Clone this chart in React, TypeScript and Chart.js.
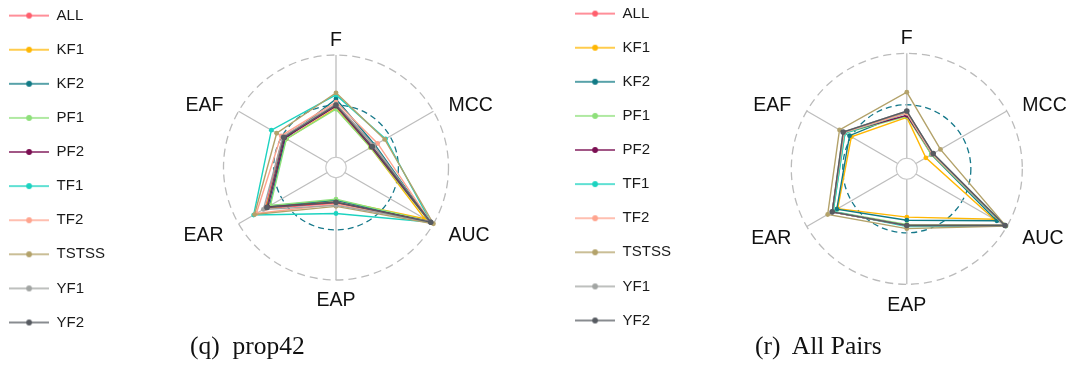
import React, { useEffect, useRef } from 'react';
import { Chart, registerables } from 'chart.js';

Chart.register(...registerables);

// Axes of every radar, clockwise from the top
const metrics = ['F', 'MCC', 'AUC', 'EAP', 'EAR', 'EAF'];

// Compared approaches and their colours
const methods = ['ALL', 'KF1', 'KF2', 'PF1', 'PF2', 'TF1', 'TF2', 'TSTSS', 'YF1', 'YF2'];
const methodColors = [
  '#FF5F6D', '#FFB703', '#117A85', '#8EE07A', '#7B0F52',
  '#1CD3C0', '#FFA48E', '#B3A26A', '#A2A5A3', '#575B61',
];

// Scores per method (rows follow `methods`, columns follow `metrics`)
const prop42Scores: number[][] = [
  [0.52, 0.33, 0.95, 0.25, 0.70, 0.50],
  [0.48, 0.29, 0.90, 0.22, 0.69, 0.46],
  [0.57, 0.34, 0.96, 0.22, 0.65, 0.47],
  [0.47, 0.29, 0.95, 0.21, 0.64, 0.46],
  [0.50, 0.30, 0.96, 0.24, 0.67, 0.48],
  [0.61, 0.46, 0.97, 0.35, 0.83, 0.63],
  [0.54, 0.37, 0.97, 0.26, 0.80, 0.52],
  [0.63, 0.45, 1.00, 0.28, 0.82, 0.57],
  [0.52, 0.33, 0.96, 0.27, 0.72, 0.50],
  [0.51, 0.31, 0.97, 0.24, 0.68, 0.49],
];

const allPairsScores: number[][] = [
  [0.44, 0.18, 0.98, 0.44, 0.72, 0.59],
  [0.39, 0.11, 0.86, 0.36, 0.66, 0.51],
  [0.44, 0.17, 0.89, 0.39, 0.67, 0.53],
  [0.40, 0.17, 0.97, 0.43, 0.71, 0.58],
  [0.41, 0.18, 0.98, 0.44, 0.72, 0.59],
  [0.43, 0.18, 0.99, 0.45, 0.71, 0.58],
  [0.43, 0.18, 0.98, 0.44, 0.72, 0.59],
  [0.63, 0.27, 0.99, 0.47, 0.77, 0.64],
  [0.45, 0.19, 0.98, 0.44, 0.72, 0.60],
  [0.45, 0.19, 0.98, 0.44, 0.72, 0.60],
];

// Radial range: values below 0 form the empty hub in the middle
const SCALE_MIN = -0.1;
const SCALE_MAX = 1;
// Rings: hub edge, reference ring, outer ring
const ringValues = [0, 0.51, 1];

const SANS = '"Liberation Sans", Arial, Helvetica, sans-serif';
const SERIF = '"Liberation Serif", "Times New Roman", Times, serif';

type PanelLayout = {
  left: number;
  top: number;
  width: number;
  height: number;
  cx: number; // radar centre on the canvas
  cy: number;
  radius: number;
};

function makeLegendMark(color: string): HTMLCanvasElement {
  const c = document.createElement('canvas');
  c.width = 40;
  c.height = 10;
  const g = c.getContext('2d')!;
  g.globalAlpha = 0.7;
  g.strokeStyle = color;
  g.lineWidth = 2;
  g.beginPath();
  g.moveTo(0, 5);
  g.lineTo(40, 5);
  g.stroke();
  g.globalAlpha = 1;
  g.fillStyle = color;
  g.beginPath();
  g.arc(20, 5, 2.9, 0, Math.PI * 2);
  g.fill();
  return c;
}

// White hub over the centre of the spokes
const hubPlugin = {
  id: 'hub',
  beforeDatasetsDraw(chart: any) {
    const r = chart.scales.r;
    const ctx = chart.ctx;
    const rad = r.getDistanceFromCenterForValue(0);
    ctx.save();
    ctx.beginPath();
    ctx.arc(r.xCenter, r.yCenter, rad, 0, Math.PI * 2);
    ctx.fillStyle = '#ffffff';
    ctx.fill();
    ctx.strokeStyle = '#c8c8c8';
    ctx.lineWidth = 1.1;
    ctx.stroke();
    ctx.restore();
  },
};

// Metric names set just outside the outer ring
const axisLabelPlugin = {
  id: 'axisLabels',
  afterDraw(chart: any) {
    const r = chart.scales.r;
    const ctx = chart.ctx;
    const labels: string[] = chart.data.labels;
    ctx.save();
    ctx.font = `19.5px ${SANS}`;
    ctx.fillStyle = '#111111';
    ctx.textBaseline = 'middle';
    labels.forEach((label, i) => {
      const p = r.getPointPosition(i, r.drawingArea * 1.155);
      const s = Math.sin(r.getIndexAngle(i));
      ctx.textAlign = Math.abs(s) < 0.01 ? 'center' : s > 0 ? 'left' : 'right';
      ctx.fillText(label, p.x, p.y + 3.5);
    });
    ctx.restore();
  },
};

function RadarPanel({ scores, layout }: { scores: number[][]; layout: PanelLayout }) {
  const ref = useRef<HTMLCanvasElement>(null);

  useEffect(() => {
    const canvas = ref.current;
    if (!canvas) return;
    const marks = methodColors.map(makeLegendMark);

    const chart = new Chart(canvas, {
      type: 'radar',
      data: {
        labels: metrics,
        datasets: methods.map((name, i) => ({
          label: name,
          data: scores[i],
          borderColor: methodColors[i],
          backgroundColor: methodColors[i],
          pointBackgroundColor: methodColors[i],
          pointBorderColor: methodColors[i],
          borderWidth: 1.4,
          pointRadius: i === methods.length - 1 ? 2.8 : 2.4,
          pointBorderWidth: 0,
          fill: false,
          tension: 0,
          order: methods.length - i,
          clip: false,
        })),
      },
      options: {
        responsive: false,
        animation: false,
        layout: { padding: 0 },
        events: [],
        plugins: {
          tooltip: { enabled: false },
          legend: {
            position: 'left',
            align: 'start',
            labels: {
              usePointStyle: true,
              pointStyleWidth: 40,
              boxHeight: 10,
              padding: 19.1,
              color: '#1a1a1a',
              font: { family: SANS, size: 15 },
              generateLabels: (c: any) =>
                c.data.datasets.map((ds: any, i: number) => ({
                  text: ds.label,
                  datasetIndex: i,
                  pointStyle: marks[i],
                  fillStyle: methodColors[i],
                  strokeStyle: methodColors[i],
                  lineWidth: 0,
                  hidden: false,
                  fontColor: '#1a1a1a',
                })),
              sort: (a: any, b: any) => a.datasetIndex - b.datasetIndex,
            },
          },
        },
        scales: {
          r: {
            min: SCALE_MIN,
            max: SCALE_MAX,
            startAngle: 0,
            ticks: { display: false },
            pointLabels: { display: false },
            angleLines: { color: '#bdbdbd', lineWidth: 1.3 },
            grid: {
              circular: true,
              color: (c: any) => (c.index === 1 ? '#15788A' : '#BBBBBB'),
              lineWidth: (c: any) => (c.index === 0 ? 0 : 1.3),
            },
            border: {
              dash: (c: any) => (c.index === 1 ? [6, 4] : [8, 5]),
            },
            afterBuildTicks: (scale: any) => {
              scale.ticks = ringValues.map((value) => ({ value }));
            },
            afterSetDimensions: (scale: any) => {
              scale.xCenter = layout.cx;
              scale.yCenter = layout.cy;
              scale.drawingArea = layout.radius;
            },
          } as any,
        },
      } as any,
      plugins: [hubPlugin, axisLabelPlugin],
    });

    return () => chart.destroy();
  }, [scores, layout]);

  return (
    <canvas
      ref={ref}
      width={layout.width}
      height={layout.height}
      style={{ position: 'absolute', left: layout.left, top: layout.top, display: 'block' }}
    />
  );
}

// Legend padding is 19.1 px: canvases are shifted so the first legend row sits near the top
const prop42Layout: PanelLayout = {
  left: -10, top: -11, width: 565, height: 380,
  cx: 346, cy: 178.5, radius: 112.5,
};

const allPairsLayout: PanelLayout = {
  left: 556, top: -13, width: 522, height: 380,
  cx: 350.8, cy: 181.8, radius: 115.5,
};

const captionStyle: React.CSSProperties = {
  position: 'absolute',
  top: 333,
  fontFamily: SERIF,
  fontSize: 25.5,
  lineHeight: '25px',
  color: '#111111',
  whiteSpace: 'pre',
};

export default function App() {
  return (
    <div
      style={{
        position: 'fixed',
        left: 0,
        top: 0,
        width: 1077,
        height: 365,
        overflow: 'hidden',
        background: '#ffffff',
      }}
    >
      <RadarPanel scores={prop42Scores} layout={prop42Layout} />
      <RadarPanel scores={allPairsScores} layout={allPairsLayout} />
      <div style={{ ...captionStyle, left: 190 }}>{'(q)  prop42'}</div>
      <div style={{ ...captionStyle, left: 755 }}>{'(r)  All Pairs'}</div>
    </div>
  );
}
